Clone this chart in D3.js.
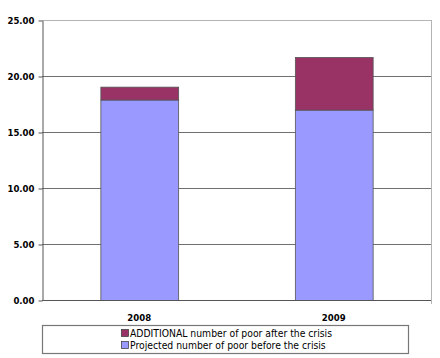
<!DOCTYPE html>
<html lang="en">
<head>
    <meta charset="UTF-8">
    <title>Number of poor</title>
    <style>
        body { margin: 0; background: #fff; }
        svg { display: block; }
        .tick text { font-family: "DejaVu Sans Condensed", "DejaVu Sans", sans-serif; font-weight: bold; font-size: 9.5px; fill: #000; }
        .legend text { font-family: "DejaVu Sans Condensed", "DejaVu Sans", sans-serif; font-size: 10.3px; fill: #000; }
    </style>
</head>
<body>
    <svg width="440" height="358"></svg>

    <script src="https://d3js.org/d3.v7.min.js"></script>
    <script>
        // chart data
        var years = ["2008", "2009"];
        var projected = [17.9, 17.0];
        var additional = [1.15, 4.7];
        var yTicks = [0, 5, 10, 15, 20, 25];
        var seriesNames = ["ADDITIONAL number of poor after the crisis", "Projected number of poor before the crisis"];
        var seriesColors = ["#993366", "#9999ff"];

        drawChart();

        function drawChart() {
            var svg = d3.select("svg");
            var pLeft = 42, pRight = 431, pTop = 20, pBottom = 300;

            var x = d3.scaleBand()
                .domain(years)
                .range([pLeft, pRight])
                .paddingInner(0.6)
                .paddingOuter(0.3);

            var y = d3.scaleLinear()
                .domain([0, 25])
                .range([pBottom, pTop]);

            // gridlines
            svg.append("g")
                .selectAll("line")
                .data(yTicks.filter(d => d > 0))
                .enter().append("line")
                .attr("x1", pLeft)
                .attr("x2", pRight)
                .attr("y1", d => y(d) + 0.5)
                .attr("y2", d => y(d) + 0.5)
                .attr("stroke", d => d == 25 ? "#b4b4b4" : "#707070")
                .attr("stroke-width", 1);

            // right border
            svg.append("line")
                .attr("x1", pRight + 0.5).attr("x2", pRight + 0.5)
                .attr("y1", pTop).attr("y2", pBottom + 4)
                .attr("stroke", "#b4b4b4");

            // stacked bars
            var rows = years.map((d, i) => ({ year: d, projected: projected[i], additional: additional[i] }));
            var stack = d3.stack().keys(["projected", "additional"])(rows);
            var colorOf = { projected: seriesColors[1], additional: seriesColors[0] };

            svg.append("g")
                .selectAll("g")
                .data(stack)
                .enter().append("g")
                .attr("fill", d => colorOf[d.key])
                .selectAll("rect")
                .data(d => d)
                .enter().append("rect")
                .attr("x", d => x(d.data.year) + 0.5)
                .attr("y", d => y(d[1]) + 0.5)
                .attr("width", x.bandwidth())
                .attr("height", d => y(d[0]) - y(d[1]))
                .attr("stroke", "#555")
                .attr("stroke-width", 0.8);

            // y axis
            var yAxis = svg.append("g")
                .attr("transform", "translate(" + (pLeft + 0.5) + ",0.5)")
                .call(d3.axisLeft(y).tickValues(yTicks).tickFormat(d3.format(".2f")).tickSize(4).tickSizeOuter(0));
            yAxis.select(".domain").attr("stroke", "#555");
            yAxis.selectAll(".tick line").attr("stroke", "#555");
            yAxis.selectAll(".tick text").attr("x", -8);

            // x axis
            var xAxis = svg.append("g")
                .attr("transform", "translate(0," + (pBottom + 0.5) + ")")
                .call(d3.axisBottom(x).tickSize(0).tickSizeOuter(0));
            xAxis.select(".domain").attr("stroke", "#555").attr("d", "M" + pLeft + ",0H" + pRight);
            xAxis.selectAll(".tick text").attr("y", 14);

            // legend
            var legend = svg.append("g").attr("class", "legend");
            legend.append("rect")
                .attr("x", 42.5).attr("y", 325.5)
                .attr("width", 366).attr("height", 28)
                .attr("fill", "#fff")
                .attr("stroke", "#777")
                .attr("stroke-width", 1.2);

            var item = legend.selectAll(".legend-item")
                .data(seriesNames)
                .enter().append("g")
                .attr("class", "legend-item")
                .attr("transform", (d, i) => "translate(121," + (329 + i * 12) + ")");

            item.append("rect")
                .attr("x", 0.5).attr("y", 0.5)
                .attr("width", 7).attr("height", 7)
                .attr("fill", (d, i) => seriesColors[i])
                .attr("stroke", "#333")
                .attr("stroke-width", 0.7);

            item.append("text")
                .attr("x", 9)
                .attr("y", 7.8)
                .text(d => d);
        }
    </script>
</body>
</html>
